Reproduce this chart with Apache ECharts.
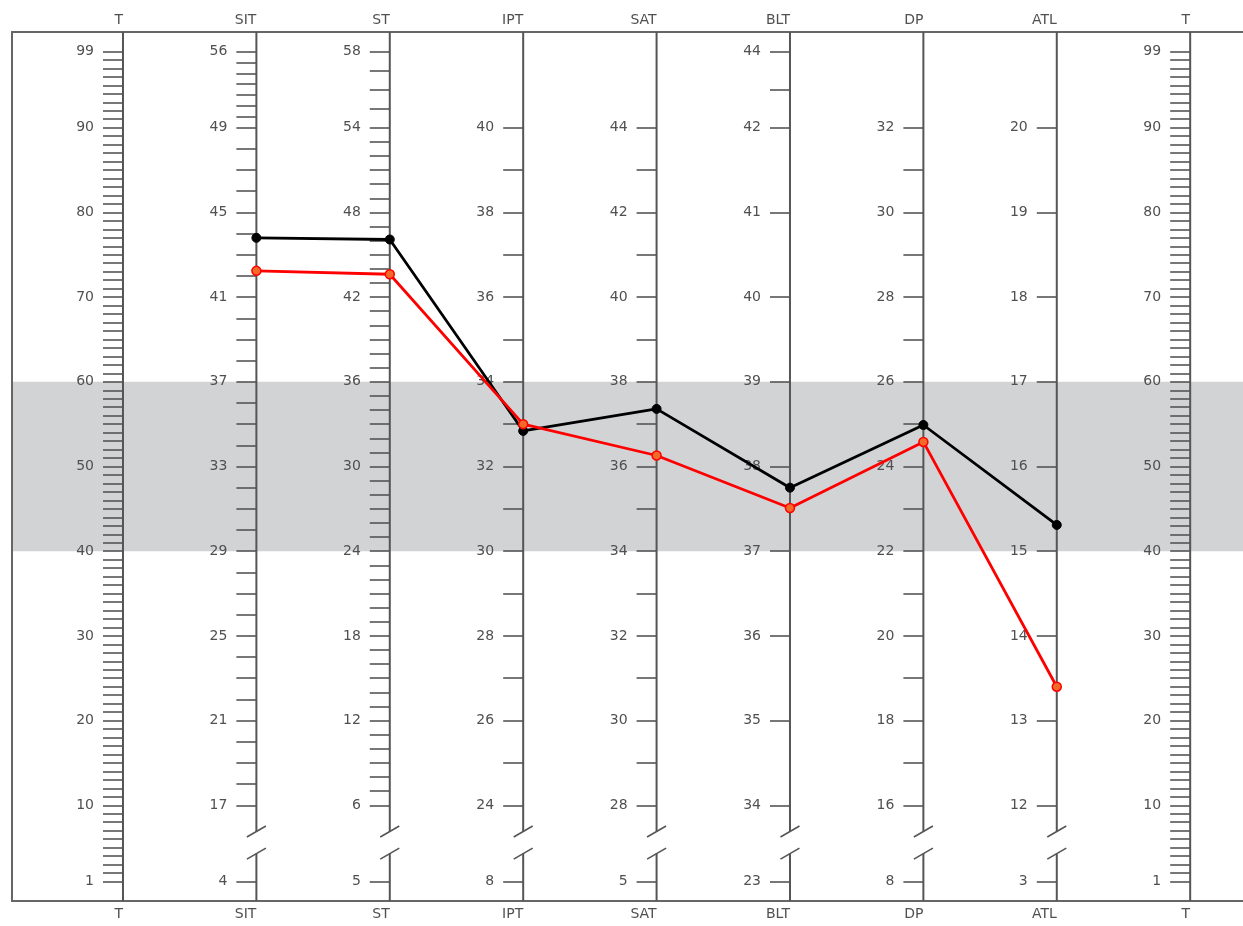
<!DOCTYPE html>
<html>
<head>
<meta charset="utf-8">
<script src="https://cdn.jsdelivr.net/npm/echarts@6/dist/echarts.min.js"></script>
<style>
  html, body { margin: 0; padding: 0; background: #ffffff; }
  #chart { width: 1243px; height: 926px; }
</style>
</head>
<body>
<div id="chart"></div>
<script>
// ---------------- data ----------------
const axisNames = ['T', 'SIT', 'ST', 'IPT', 'SAT', 'BLT', 'DP', 'ATL', 'T'];
// T-score positions of the printed labels (top to bottom)
const labelT = [99, 90, 80, 70, 60, 50, 40, 30, 20, 10, 1];
// raw-score labels per scale, aligned with labelT (null = no label)
const tLabels   = [99, 90, 80, 70, 60, 50, 40, 30, 20, 10, 1];
const sitLabels = [56, 49, 45, 41, 37, 33, 29, 25, 21, 17, 4];
const stLabels  = [58, 54, 48, 42, 36, 30, 24, 18, 12, 6, 5];
const iptLabels = [null, 40, 38, 36, 34, 32, 30, 28, 26, 24, 8];
const satLabels = [null, 44, 42, 40, 38, 36, 34, 32, 30, 28, 5];
const bltLabels = [44, 42, 41, 40, 39, 38, 37, 36, 35, 34, 23];
const dpLabels  = [null, 32, 30, 28, 26, 24, 22, 20, 18, 16, 8];
const atlLabels = [null, 20, 19, 18, 17, 16, 15, 14, 13, 12, 3];
const scaleLabels = [tLabels, sitLabels, stLabels, iptLabels, satLabels, bltLabels, dpLabels, atlLabels, tLabels];
const brokenAxis = [0, 1, 1, 1, 1, 1, 1, 1, 0];

// profile values (T-scores) on scales SIT..ATL (x index 1..7)
const profileX = [1, 2, 3, 4, 5, 6, 7];
const blackT = [77, 76.8, 54.2, 56.8, 47.5, 54.9, 43.1];
const redT   = [73.1, 72.7, 55.0, 51.3, 45.1, 52.9, 24.0];

// normal band (T 40-60)
const bandT = [40, 60];

// ---------------- layout ----------------
const X_MIN = -0.832, X_MAX = 8.396;
const Y_MIN = -1.3, Y_MAX = 101.3;
const BREAK_HI = 6.9, BREAK_LO = 4.3;
const CHART_W = 1243;
const GRID = { left: 12, top: 32, right: 0, bottom: 25 };
const gridW = CHART_W - GRID.left - GRID.right;
const pxPerX = gridW / (X_MAX - X_MIN);

const FONT = 'DejaVu Sans';
const TXT = '#505050';
const AX = '#555555';
const FRAME = '#666666';

function key(v) { return (Math.round(v * 100) / 100).toFixed(2); }

function buildScale(i) {
  const labels = scaleLabels[i];
  const map = {};
  const labVals = [];
  labels.forEach((r, k) => {
    if (r !== null) { map[key(labelT[k])] = String(r); labVals.push(labelT[k]); }
  });
  let ticks = [];
  if (i === 0 || i === 8) {
    for (let t = 1; t <= 99; t++) ticks.push(t);
  } else {
    const anchors = [];
    labels.forEach((r, k) => { if (r !== null && labelT[k] >= 10) anchors.push([r, labelT[k]]); });
    const rTop = anchors[0][0], rBot = anchors[anchors.length - 1][0];
    for (let r = rTop; r >= rBot; r--) {
      for (let a = 0; a < anchors.length - 1; a++) {
        const [r0, t0] = anchors[a], [r1, t1] = anchors[a + 1];
        if (r <= r0 && r >= r1) {
          ticks.push(t0 + (r - r0) * (t1 - t0) / (r1 - r0));
          break;
        }
      }
    }
    ticks.push(1);
  }
  return { map, labVals, ticks };
}

const yAxes = axisNames.map((n, i) => {
  const s = buildScale(i);
  return {
    type: 'value', min: Y_MIN, max: Y_MAX, position: 'left',
    offset: -(i - X_MIN) * pxPerX, z: 3,
    axisLine: { show: false, onZero: false }, splitLine: { show: false },
    axisTick: { show: true, inside: false, length: 20, customValues: s.ticks,
      lineStyle: { color: AX, width: 1.6 } },
    axisLabel: { show: true, customValues: s.labVals, margin: 29,
      formatter: v => s.map[key(v)] || '',
      color: TXT, fontSize: 14, fontFamily: FONT }
  };
});
// left frame line
yAxes.push({
  type: 'value', min: Y_MIN, max: Y_MAX, position: 'left', offset: 0, z: 3,
  axisLine: { show: true, onZero: false, lineStyle: { color: FRAME, width: 2 } },
  axisTick: { show: false }, axisLabel: { show: false }, splitLine: { show: false }
});

function nameAxis(pos, margin) {
  return {
    type: 'value', min: X_MIN, max: X_MAX, position: pos, z: 3,
    axisLine: { show: true, onZero: false, lineStyle: { color: FRAME, width: 2 } },
    axisTick: { show: false }, splitLine: { show: false },
    axisLabel: { customValues: axisNames.map((n, i) => i), margin: margin,
      formatter: v => axisNames[Math.round(v)], align: 'right',
      color: TXT, fontSize: 14, fontFamily: FONT }
  };
}

const chart = echarts.init(document.getElementById('chart'), null, { renderer: 'canvas' });
chart.setOption({
  animation: false,
  backgroundColor: '#ffffff',
  grid: Object.assign({ show: false }, GRID),
  xAxis: [nameAxis('bottom', 6), nameAxis('top', 5)],
  yAxis: yAxes,
  series: [
    {
      type: 'line', data: [], z: 1, silent: true,
      markArea: { silent: true, itemStyle: { color: '#d2d3d5' },
        data: [[{ xAxis: X_MIN, yAxis: bandT[0] }, { xAxis: X_MAX, yAxis: bandT[1] }]] }
    },
    {
      type: 'custom', z: 4, silent: true,
      data: axisNames.map((n, i) => [i, brokenAxis[i]]),
      encode: { x: 0, y: 1 },
      renderItem: function (params, api) {
        const i = api.value(0);
        const top = api.coord([i, Y_MAX]);
        const bot = api.coord([i, Y_MIN]);
        const st = { stroke: AX, lineWidth: 2 };
        if (!api.value(1)) {
          return { type: 'line', shape: { x1: top[0], y1: top[1], x2: bot[0], y2: bot[1] }, style: st };
        }
        const b1 = api.coord([i, BREAK_HI]);
        const b2 = api.coord([i, BREAK_LO]);
        const slash = c => ({ type: 'line',
          shape: { x1: c[0] - 9.5, y1: c[1] + 5.5, x2: c[0] + 9.5, y2: c[1] - 5.5 },
          style: { stroke: AX, lineWidth: 1.6 } });
        return { type: 'group', children: [
          { type: 'line', shape: { x1: top[0], y1: top[1], x2: b1[0], y2: b1[1] }, style: st },
          { type: 'line', shape: { x1: b2[0], y1: b2[1], x2: bot[0], y2: bot[1] }, style: st },
          slash(b1), slash(b2)
        ] };
      }
    },
    {
      type: 'line', z: 5, data: profileX.map((x, k) => [x, blackT[k]]),
      symbol: 'circle', symbolSize: 9,
      lineStyle: { color: '#000000', width: 2.8 },
      itemStyle: { color: '#000000', borderColor: '#000000', borderWidth: 1 }
    },
    {
      type: 'line', z: 6, data: profileX.map((x, k) => [x, redT[k]]),
      symbol: 'circle', symbolSize: 9,
      lineStyle: { color: '#ff0000', width: 2.8 },
      itemStyle: { color: '#f26a2a', borderColor: '#ff0000', borderWidth: 1.5 }
    }
  ]
});
</script>
</body>
</html>
